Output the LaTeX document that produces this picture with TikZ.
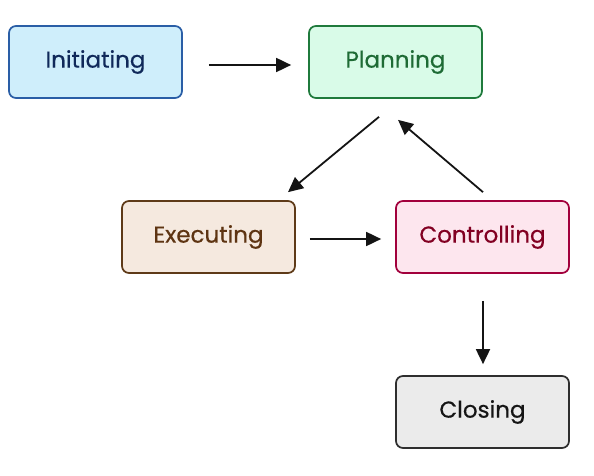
\documentclass[tikz,border=0pt]{standalone}
\usepackage{fontspec}
\setmainfont{Poppins}[UprightFeatures={FakeBold=0.5}]
\usetikzlibrary{arrows.meta}
\definecolor{inifill}{HTML}{CFEEFB}\definecolor{inidraw}{HTML}{2A5EA6}\definecolor{initext}{HTML}{10295A}
\definecolor{plafill}{HTML}{D9FBE8}\definecolor{pladraw}{HTML}{1F7A3C}\definecolor{platext}{HTML}{1E6B35}
\definecolor{exefill}{HTML}{F5E9DF}\definecolor{exedraw}{HTML}{5E3A18}\definecolor{exetext}{HTML}{5E3412}
\definecolor{ctlfill}{HTML}{FDE6EE}\definecolor{ctldraw}{HTML}{A2003C}\definecolor{ctltext}{HTML}{820022}
\definecolor{clofill}{HTML}{EBEBEB}\definecolor{clodraw}{HTML}{2E2E2E}\definecolor{clotext}{HTML}{151515}
\tikzset{
  phase/.style={draw, line width=1.7pt, rounded corners=7pt, minimum width=173pt, minimum height=72pt, inner sep=0pt, font=\fontsize{23}{27}\selectfont},
  flow/.style={line width=1.8pt, draw=black!92, -{Triangle[length=15pt,width=14pt]}}
}
\begin{document}
\begin{tikzpicture}[x=1pt,y=-1pt]
\useasboundingbox (0,0) rectangle (594,476);
\node[phase, fill=inifill, draw=inidraw, text=initext] (ini) at (95.5,62) {Initiating};
\node[phase, fill=plafill, draw=pladraw, text=platext] (pla) at (395.5,62) {Planning};
\node[phase, fill=exefill, draw=exedraw, text=exetext] (exe) at (208.5,237) {Executing};
\node[phase, fill=ctlfill, draw=ctldraw, text=ctltext] (ctl) at (482.5,237) {Controlling};
\node[phase, fill=clofill, draw=clodraw, text=clotext] (clo) at (482.5,412) {Closing};
\draw[flow] ([shift={(26,3)}]ini.east) -- ([shift={(-17,3)}]pla.west);
\draw[flow] ([shift={(-16.5,18)}]pla.south) -- ([shift={(79.5,-8)}]exe.north);
\draw[flow] ([shift={(14,2)}]exe.east) -- ([shift={(-14,2)}]ctl.west);
\draw[flow] ([shift={(0.5,-8)}]ctl.north) -- ([shift={(2.5,21)}]pla.south);
\draw[flow] ([shift={(0.5,27)}]ctl.south) -- ([shift={(0.5,-11)}]clo.north);
\end{tikzpicture}
\end{document}
